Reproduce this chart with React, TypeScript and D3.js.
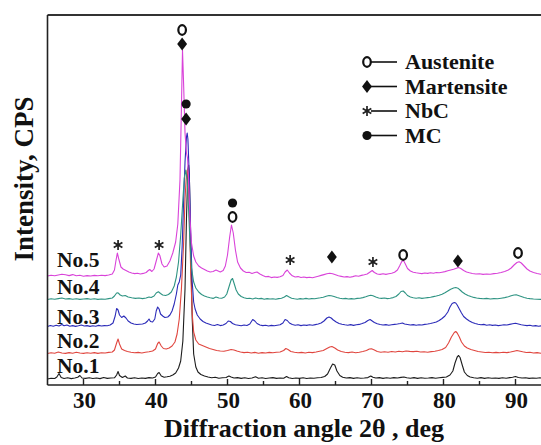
import React from 'react';
import * as d3 from 'd3';

type Pt = [number, number];

const seriesNames = ['No.1', 'No.2', 'No.3', 'No.4', 'No.5'];
const seriesColors = ['#1c1c1c', '#e0463f', '#2b2bb8', '#2f9483', '#d943d9'];
const seriesOffsets = [60, 310, 580, 850, 1070];

const no1: Pt[] = [[25,0],[25.5,8],[26,5],[26.3,20],[26.6,55],[26.9,15],[27.3,5],[27.8,12],[28.3,4],[28.8,10],[29.2,18],[29.5,35],[29.8,10],[30.3,6],[30.8,12],[31.3,5],[31.8,10],[32.3,4],[32.8,15],[33.3,6],[33.8,10],[34.3,12],[34.6,40],[34.8,75],[35.0,35],[35.4,15],[35.8,30],[36.1,10],[36.6,6],[37.1,12],[37.6,5],[38.1,10],[38.6,6],[39.1,14],[39.6,10],[40.0,20],[40.3,55],[40.5,65],[40.8,30],[41.2,18],[41.6,22],[42.0,28],[42.4,40],[42.8,60],[43.2,110],[43.5,180],[43.8,380],[44.1,900],[44.3,1600],[44.5,2100],[44.6,2140],[44.7,2050],[44.9,1300],[45.1,600],[45.3,250],[45.6,120],[45.9,70],[46.3,45],[46.8,30],[47.3,20],[47.8,12],[48.3,18],[48.8,8],[49.3,12],[49.8,15],[50.2,30],[50.5,20],[50.9,10],[51.4,14],[51.9,6],[52.4,12],[52.9,5],[53.4,10],[53.9,22],[54.3,8],[54.8,12],[55.3,5],[55.8,10],[56.3,14],[56.8,6],[57.3,10],[57.8,8],[58.2,25],[58.5,12],[59.0,5],[59.5,10],[60.0,6],[60.5,12],[61.0,5],[61.5,10],[62.0,8],[62.5,12],[63.0,15],[63.5,25],[63.9,50],[64.3,110],[64.6,150],[64.9,140],[65.2,80],[65.6,35],[66.0,18],[66.5,10],[67.0,14],[67.5,6],[68.0,12],[68.5,8],[69.0,10],[69.5,14],[69.9,30],[70.2,18],[70.6,10],[71.1,14],[71.6,6],[72.1,12],[72.6,8],[73.1,14],[73.6,10],[74.1,16],[74.5,20],[74.9,12],[75.4,8],[75.9,14],[76.4,6],[76.9,12],[77.4,8],[77.9,10],[78.4,14],[78.9,8],[79.4,12],[79.9,16],[80.4,20],[80.9,40],[81.3,80],[81.6,160],[81.9,220],[82.1,235],[82.3,215],[82.6,140],[82.9,70],[83.3,35],[83.7,20],[84.2,12],[84.7,8],[85.2,14],[85.7,6],[86.2,12],[86.7,8],[87.2,10],[87.7,6],[88.2,12],[88.7,8],[89.2,14],[89.6,18],[90.0,25],[90.4,15],[90.9,10],[91.4,12],[91.9,6],[92.4,10],[92.9,8],[93.4,12],[94,6]];

const no2: Pt[] = [[25,5],[25.5,12],[26,8],[26.5,20],[27,10],[27.5,6],[28,14],[28.5,8],[29,18],[29.5,10],[30,6],[30.5,12],[31,8],[31.5,14],[32,6],[32.5,12],[33,10],[33.5,16],[34,20],[34.3,40],[34.6,110],[34.8,150],[35.0,100],[35.3,50],[35.7,35],[36.1,25],[36.6,18],[37.1,12],[37.6,16],[38.1,10],[38.6,18],[39.1,22],[39.6,30],[40.0,50],[40.3,105],[40.5,120],[40.8,80],[41.1,55],[41.5,50],[41.9,60],[42.3,80],[42.7,120],[43.0,200],[43.3,350],[43.6,650],[43.9,1100],[44.1,1550],[44.3,1800],[44.4,1840],[44.5,1780],[44.7,1400],[44.9,800],[45.1,400],[45.3,220],[45.6,140],[46.0,100],[46.5,85],[47.0,70],[47.5,55],[48.0,45],[48.5,35],[49.0,30],[49.5,28],[50.0,35],[50.5,45],[50.9,40],[51.3,30],[51.8,20],[52.3,14],[52.8,18],[53.3,10],[53.8,16],[54.3,8],[54.8,14],[55.3,10],[55.8,16],[56.3,12],[56.8,18],[57.3,20],[57.8,35],[58.1,55],[58.4,45],[58.8,25],[59.3,18],[59.8,12],[60.3,16],[60.8,10],[61.3,18],[61.8,14],[62.3,20],[62.8,28],[63.3,35],[63.8,55],[64.2,70],[64.5,75],[64.9,60],[65.3,40],[65.8,25],[66.3,18],[66.8,14],[67.3,20],[67.8,12],[68.3,18],[68.8,25],[69.3,35],[69.7,50],[70.0,52],[70.4,40],[70.8,25],[71.3,18],[71.8,22],[72.3,18],[72.8,25],[73.3,20],[73.8,28],[74.3,22],[74.8,30],[75.3,26],[75.8,24],[76.3,28],[76.8,20],[77.3,22],[77.8,18],[78.3,24],[78.8,28],[79.3,35],[79.8,45],[80.3,65],[80.7,110],[81.1,170],[81.5,215],[81.7,225],[81.9,210],[82.2,170],[82.5,120],[82.9,80],[83.3,60],[83.8,45],[84.3,35],[84.8,25],[85.3,20],[85.8,15],[86.3,18],[86.8,12],[87.3,16],[87.8,12],[88.3,18],[88.8,14],[89.3,20],[89.8,28],[90.2,35],[90.5,30],[91.0,22],[91.5,15],[92.0,18],[92.5,10],[93.0,14],[93.5,8],[94,12]];

const no3: Pt[] = [[25,5],[25.4,15],[25.8,8],[26.2,18],[26.6,10],[27.0,25],[27.3,12],[27.7,20],[28.1,8],[28.5,14],[28.9,6],[29.3,12],[29.7,20],[30.1,10],[30.5,14],[30.9,6],[31.3,12],[31.7,8],[32.1,16],[32.5,10],[32.9,14],[33.3,12],[33.7,20],[34.1,40],[34.4,110],[34.6,185],[34.8,170],[35.0,120],[35.3,95],[35.6,110],[35.9,90],[36.2,60],[36.6,40],[37.0,30],[37.4,25],[37.8,28],[38.2,30],[38.6,40],[38.9,60],[39.1,80],[39.3,55],[39.6,50],[39.9,80],[40.1,160],[40.3,200],[40.5,180],[40.7,130],[41.0,110],[41.3,95],[41.7,100],[42.0,120],[42.3,160],[42.6,230],[42.9,330],[43.1,420],[43.3,450],[43.5,520],[43.7,800],[43.9,1250],[44.1,1650],[44.3,1900],[44.4,1940],[44.5,1880],[44.7,1500],[44.9,900],[45.1,450],[45.3,250],[45.5,180],[45.8,120],[46.2,80],[46.6,55],[47.0,40],[47.4,30],[47.8,20],[48.2,15],[48.6,24],[49.0,14],[49.4,20],[49.8,35],[50.1,60],[50.4,55],[50.7,35],[51.1,22],[51.5,18],[51.9,12],[52.3,20],[52.7,15],[53.1,30],[53.5,75],[53.8,60],[54.1,35],[54.5,20],[54.9,14],[55.3,18],[55.7,10],[56.1,16],[56.5,12],[56.9,18],[57.3,22],[57.7,40],[58.0,75],[58.3,65],[58.6,40],[59.0,25],[59.4,18],[59.8,22],[60.2,14],[60.6,20],[61.0,16],[61.4,22],[61.8,18],[62.2,24],[62.6,30],[63.0,40],[63.4,60],[63.8,90],[64.1,100],[64.4,90],[64.7,70],[65.1,50],[65.5,35],[65.9,28],[66.3,22],[66.7,18],[67.1,24],[67.5,16],[67.9,22],[68.3,26],[68.7,35],[69.1,45],[69.5,65],[69.8,75],[70.1,60],[70.4,45],[70.8,32],[71.2,25],[71.6,20],[72.0,24],[72.4,18],[72.8,22],[73.2,26],[73.6,30],[74.0,35],[74.3,40],[74.6,30],[75.0,25],[75.4,20],[75.8,24],[76.2,18],[76.6,22],[77.0,20],[77.4,26],[77.8,30],[78.2,35],[78.6,42],[79.0,50],[79.4,65],[79.8,85],[80.2,110],[80.6,150],[80.9,200],[81.2,235],[81.5,245],[81.7,240],[81.9,220],[82.2,180],[82.5,140],[82.8,105],[83.2,80],[83.6,60],[84.0,45],[84.4,35],[84.8,28],[85.2,22],[85.6,26],[86.0,18],[86.4,22],[86.8,16],[87.2,20],[87.6,14],[88.0,18],[88.4,22],[88.8,20],[89.2,26],[89.6,32],[90.0,38],[90.4,30],[90.8,22],[91.2,18],[91.6,14],[92.0,18],[92.4,10],[92.8,14],[93.2,8],[93.6,12],[94,10]];

const no4: Pt[] = [[25,5],[25.5,12],[26,8],[26.5,14],[27,20],[27.5,10],[28,14],[28.5,8],[29,12],[29.5,6],[30,10],[30.5,14],[31,8],[31.5,12],[32,6],[32.5,10],[33,8],[33.5,14],[34,20],[34.3,40],[34.6,70],[34.8,72],[35.1,50],[35.4,40],[35.8,45],[36.2,30],[36.7,22],[37.2,16],[37.7,20],[38.2,14],[38.7,20],[39.1,30],[39.4,25],[39.8,40],[40.1,70],[40.4,82],[40.7,65],[41.0,50],[41.4,45],[41.8,55],[42.2,80],[42.6,140],[42.9,230],[43.2,380],[43.5,650],[43.8,1000],[44.0,1220],[44.2,1300],[44.4,1200],[44.6,900],[44.8,550],[45.0,320],[45.3,180],[45.6,120],[46.0,80],[46.4,55],[46.8,40],[47.2,30],[47.6,22],[48.0,16],[48.4,30],[48.8,20],[49.2,18],[49.6,30],[49.9,60],[50.2,130],[50.5,200],[50.7,215],[50.9,170],[51.2,100],[51.5,60],[51.9,35],[52.3,22],[52.7,15],[53.1,18],[53.5,10],[53.9,20],[54.3,12],[54.7,16],[55.1,8],[55.5,14],[55.9,10],[56.3,12],[56.7,8],[57.1,14],[57.5,18],[57.9,30],[58.2,45],[58.5,32],[58.9,18],[59.3,12],[59.7,8],[60.1,14],[60.5,10],[60.9,16],[61.3,10],[61.7,14],[62.1,12],[62.5,18],[62.9,22],[63.3,28],[63.7,38],[64.1,45],[64.4,42],[64.8,35],[65.2,25],[65.6,18],[66.0,12],[66.4,16],[66.8,10],[67.2,14],[67.6,10],[68.0,16],[68.4,18],[68.8,24],[69.2,32],[69.6,42],[69.9,48],[70.2,42],[70.6,30],[71.0,20],[71.4,16],[71.8,20],[72.2,14],[72.6,18],[73.0,24],[73.4,35],[73.8,60],[74.1,85],[74.4,90],[74.7,70],[75.0,45],[75.4,30],[75.8,22],[76.2,18],[76.6,22],[77.0,16],[77.4,20],[77.8,24],[78.2,28],[78.6,34],[79.0,40],[79.4,48],[79.8,58],[80.2,72],[80.6,90],[81.0,108],[81.4,120],[81.7,125],[82.0,118],[82.3,100],[82.6,80],[83.0,60],[83.4,45],[83.8,35],[84.2,26],[84.6,20],[85.0,16],[85.5,12],[86.0,16],[86.5,10],[87.0,14],[87.5,12],[88.0,18],[88.5,24],[89.0,32],[89.4,42],[89.8,50],[90.1,52],[90.4,45],[90.8,35],[91.2,25],[91.6,18],[92.0,14],[92.5,10],[93.0,8],[93.5,6],[94,6]];

const no5: Pt[] = [[25,20],[25.5,28],[26,22],[26.5,30],[27,38],[27.5,32],[28,24],[28.5,34],[29,22],[29.5,28],[30,18],[30.5,24],[31,20],[31.5,26],[32,22],[32.5,28],[33,24],[33.5,30],[34,40],[34.3,80],[34.5,170],[34.7,250],[34.9,190],[35.2,110],[35.5,90],[35.9,75],[36.3,60],[36.7,50],[37.1,44],[37.5,48],[37.9,40],[38.3,46],[38.7,55],[39.0,75],[39.2,85],[39.5,65],[39.8,90],[40.1,170],[40.4,250],[40.6,225],[40.9,140],[41.2,110],[41.6,120],[42.0,170],[42.4,250],[42.8,360],[43.1,540],[43.4,980],[43.6,1700],[43.75,2280],[43.9,1950],[44.1,1450],[44.3,1250],[44.45,1200],[44.6,980],[44.8,580],[45.0,350],[45.3,220],[45.6,160],[46.0,120],[46.4,100],[46.8,85],[47.2,70],[47.6,60],[48.0,65],[48.4,80],[48.7,70],[49.0,60],[49.4,75],[49.7,120],[50.0,230],[50.3,410],[50.55,530],[50.8,450],[51.1,280],[51.4,160],[51.8,100],[52.2,70],[52.6,55],[53.0,58],[53.4,45],[53.8,55],[54.1,60],[54.5,40],[54.9,25],[55.3,12],[55.7,16],[56.1,4],[56.5,10],[56.9,6],[57.3,12],[57.7,25],[58.0,60],[58.3,80],[58.6,50],[59.0,22],[59.4,10],[59.8,14],[60.2,5],[60.6,10],[61.0,4],[61.4,8],[61.8,2],[62.2,10],[62.6,18],[63.0,26],[63.4,34],[63.8,42],[64.2,48],[64.6,42],[65.0,32],[65.4,22],[65.8,16],[66.2,10],[66.6,14],[67.0,8],[67.4,14],[67.8,22],[68.2,18],[68.6,26],[69.0,32],[69.4,40],[69.8,60],[70.1,75],[70.4,55],[70.8,40],[71.2,36],[71.6,42],[72.0,36],[72.4,42],[72.8,48],[73.2,58],[73.6,80],[73.9,120],[74.2,165],[74.45,175],[74.7,140],[75.0,95],[75.4,70],[75.8,58],[76.2,52],[76.6,48],[77.0,44],[77.4,50],[77.8,46],[78.2,52],[78.6,48],[79.0,55],[79.4,52],[79.8,58],[80.2,64],[80.6,72],[81.0,80],[81.4,88],[81.8,98],[82.1,105],[82.4,95],[82.8,75],[83.2,60],[83.6,52],[84.0,45],[84.5,40],[85.0,42],[85.5,36],[86.0,40],[86.5,38],[87.0,44],[87.5,48],[88.0,55],[88.5,65],[89.0,80],[89.4,100],[89.8,130],[90.2,155],[90.5,162],[90.8,150],[91.2,120],[91.6,90],[92.0,70],[92.5,55],[93.0,45],[93.5,38],[94,35]];

const seriesData: Pt[][] = [no1, no2, no3, no4, no5];

const xTicks = [30, 40, 50, 60, 70, 80, 90];
const xMinorTicks = [35, 45, 55, 65, 75, 85];

type Kind = 'open' | 'diamond' | 'star' | 'dot';

const peakAngles = [43.7, 43.7, 44.25, 44.25, 50.7, 50.7, 34.8, 40.5, 58.7, 64.5, 70.2, 74.4, 82.0, 90.35];
const peakLevels = [3550, 3410, 2810, 2660, 1820, 1680, 1400, 1400, 1250, 1280, 1230, 1300, 1240, 1320];
const peakKinds: Kind[] = ['open', 'diamond', 'dot', 'diamond', 'dot', 'open', 'star', 'star', 'star', 'diamond', 'star', 'open', 'diamond', 'open'];

const legendLabels = ['Austenite', 'Martensite', 'NbC', 'MC'];
const legendKinds: Kind[] = ['open', 'diamond', 'star', 'dot'];

const W = 541;
const H = 445;
const left = 47.5;
const top = 15;
const bottom = 385;
const yMax = 3700;

const FONT = '"Liberation Serif", "Times New Roman", serif';

function Marker({ kind, x, y }: { kind: Kind; x: number; y: number }) {
  if (kind === 'open') {
    return <ellipse cx={x} cy={y} rx={3.8} ry={4.8} fill="none" stroke="#111" strokeWidth={2.2} />;
  }
  if (kind === 'diamond') {
    const p = d3.symbol(d3.symbolDiamond, 50)() || '';
    return <path d={p} transform={`translate(${x},${y}) scale(1.3,1)`} fill="#111" />;
  }
  if (kind === 'dot') {
    const p = d3.symbol(d3.symbolCircle, 66)() || '';
    return <path d={p} transform={`translate(${x},${y})`} fill="#111" />;
  }
  const starType = (d3 as any).symbolAsterisk || d3.symbolCross;
  const p = d3.symbol(starType, 70)() || '';
  return <path d={p} transform={`translate(${x},${y})`} fill="none" stroke="#222" strokeWidth={1.7} />;
}

export default function App() {
  const x = d3.scaleLinear().domain([25, 95]).range([left, left + 70 * 7.2]);
  const y = d3.scaleLinear().domain([0, yMax]).range([bottom, top]);
  const line = d3.line<Pt>().x(d => x(d[0])).y(d => y(d[1]));

  const labelBaselines = [373, 348, 324, 294, 267];
  const legendX = 367;
  const legendY0 = 62;
  const legendStep = 24.5;

  return (
    <svg width={W} height={H} style={{ position: 'absolute', left: 0, top: 0, background: '#fff' }}>
      <rect x={0} y={0} width={W} height={H} fill="#fff" />
      {seriesData.map((s, i) => (
        <path
          key={seriesNames[i]}
          d={line(s.map(p => [p[0], p[1] + seriesOffsets[i]] as Pt)) || ''}
          fill="none"
          stroke={seriesColors[i]}
          strokeWidth={1.1}
          strokeLinejoin="round"
        />
      ))}
      {/* frame */}
      <line x1={left} x2={W} y1={top} y2={top} stroke="#333" strokeWidth={1.8} />
      <line x1={left} x2={left} y1={top} y2={bottom} stroke="#222" strokeWidth={1.6} />
      <line x1={left} x2={W} y1={bottom} y2={bottom} stroke="#222" strokeWidth={1.6} />
      {xTicks.map(t => (
        <g key={'t' + t}>
          <line x1={x(t)} x2={x(t)} y1={bottom} y2={bottom - 6} stroke="#222" strokeWidth={1.4} />
          <text x={x(t) + 1} y={408} textAnchor="middle" fontFamily={FONT} fontWeight="bold" fontSize={23} fill="#111">
            {t}
          </text>
        </g>
      ))}
      {xMinorTicks.map(t => (
        <line key={'m' + t} x1={x(t)} x2={x(t)} y1={bottom} y2={bottom - 4} stroke="#222" strokeWidth={1.4} />
      ))}
      {/* series labels */}
      {seriesNames.map((n, i) => (
        <text key={'l' + n} x={57} y={labelBaselines[i]} fontFamily={FONT} fontWeight="bold" fontSize={21.5} fill="#111">
          {n}
        </text>
      ))}
      {/* peak annotations */}
      {peakAngles.map((a, i) => (
        <Marker key={'p' + i} kind={peakKinds[i]} x={x(a)} y={y(peakLevels[i])} />
      ))}
      {/* legend */}
      {legendLabels.map((lab, i) => {
        const cy = legendY0 + i * legendStep;
        return (
          <g key={'lg' + lab}>
            <Marker kind={legendKinds[i]} x={legendX} y={cy} />
            <line x1={legendX + 4} x2={legendX + 30} y1={cy} y2={cy} stroke="#111" strokeWidth={1.6} />
            <text x={legendX + 38} y={cy + 7} fontFamily={FONT} fontWeight="bold" fontSize={22} fill="#111">
              {lab}
            </text>
          </g>
        );
      })}
      {/* axis titles */}
      <text x={304} y={437} textAnchor="middle" fontFamily={FONT} fontWeight="bold" fontSize={26} fill="#111">
        Diffraction angle 2θ , deg
      </text>
      <text
        transform={`translate(33,179) rotate(-90)`}
        textAnchor="middle"
        fontFamily={FONT}
        fontWeight="bold"
        fontSize={27}
        fill="#111"
      >
        Intensity, CPS
      </text>
    </svg>
  );
}
